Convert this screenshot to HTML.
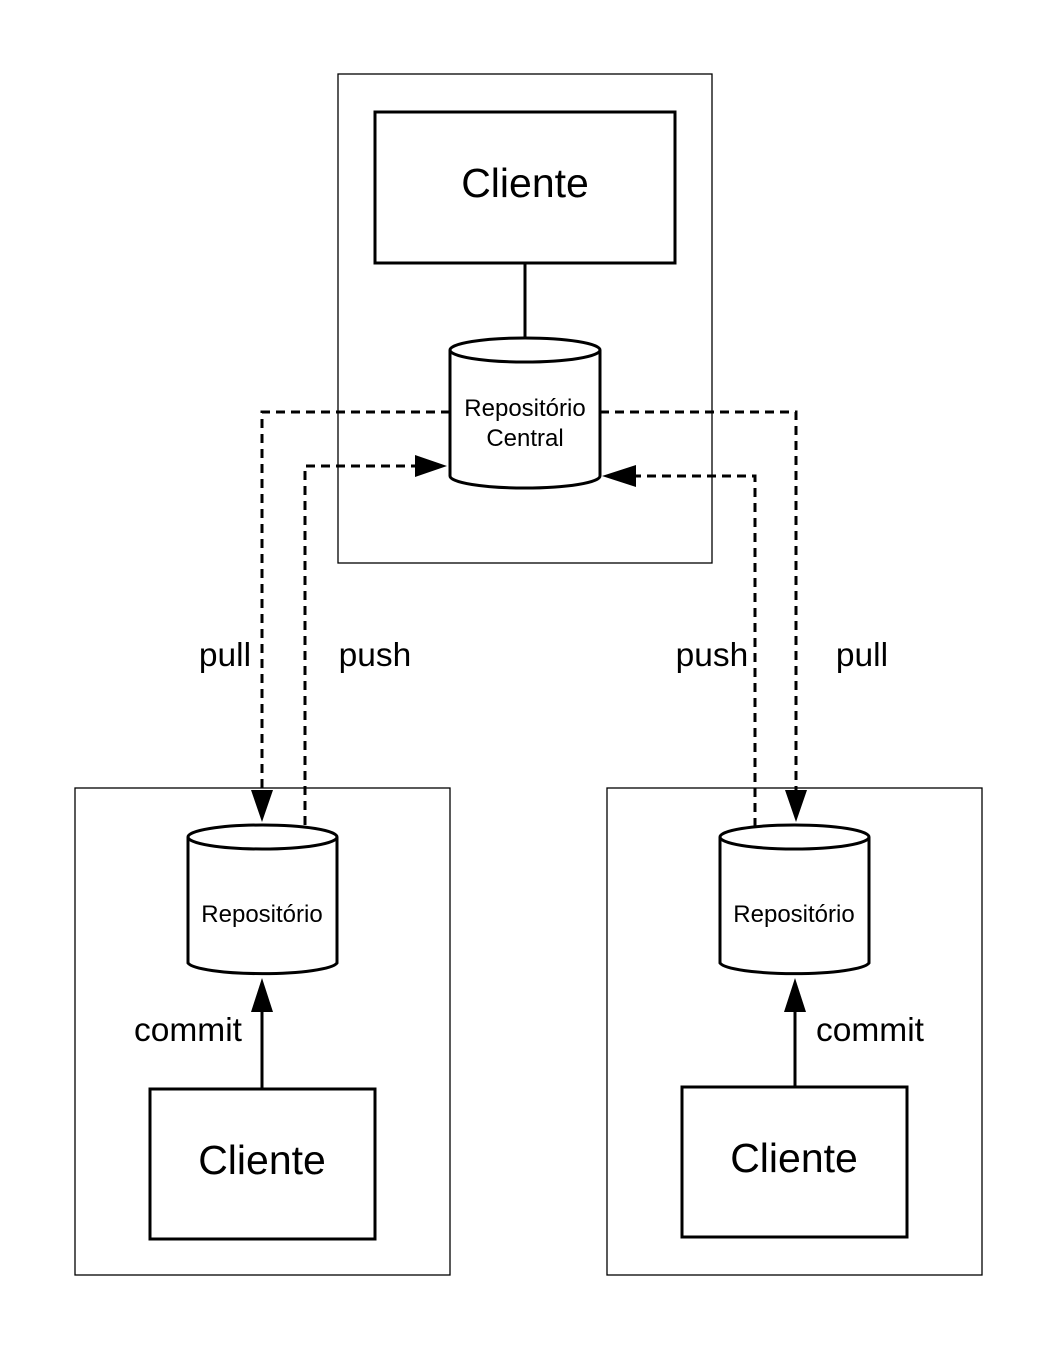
<!DOCTYPE html>
<html><head><meta charset="utf-8"><style>body{margin:0;background:#fff}</style></head><body>
<svg width="1058" height="1350" xmlns="http://www.w3.org/2000/svg" font-family="Liberation Sans, Arial, sans-serif">
<rect width="1058" height="1350" fill="#fff"/>
<g fill="none" stroke="#000">
<rect x="338" y="74" width="374" height="489" stroke-width="1.3"/>
<rect x="75" y="788" width="375" height="487" stroke-width="1.3"/>
<rect x="607" y="788" width="375" height="487" stroke-width="1.3"/>
<rect x="375" y="112" width="300" height="151" stroke-width="3"/>
<rect x="150" y="1089" width="225" height="150" stroke-width="3"/>
<rect x="682" y="1087" width="225" height="150" stroke-width="3"/>
<line x1="525" y1="263" x2="525" y2="338" stroke-width="3"/>
<line x1="262" y1="1088" x2="262" y2="1010" stroke-width="3"/>
<line x1="795" y1="1087" x2="795" y2="1010" stroke-width="3"/>
<g stroke-width="3" stroke-dasharray="9,6">
<polyline points="450,412 262,412 262,790"/>
<polyline points="305,825 305,466 415,466"/>
<polyline points="755,827 755,476 636,476"/>
<polyline points="600,412 796,412 796,790"/>
</g>
</g>
<g fill="#000">
<polygon points="262,822 251,790 273,790"/>
<polygon points="796,822 785,790 807,790"/>
<polygon points="447,466 415,455 415,477"/>
<polygon points="602,476 636,465 636,487"/>
<polygon points="262,978 251,1012 273,1012"/>
<polygon points="795,978 784,1012 806,1012"/>
</g>
<g stroke="#000" stroke-width="3" fill="#fff">
<path d="M450,350 L450,476 A75,12 0 0 0 600,476 L600,350"/>
<ellipse cx="525" cy="350" rx="75" ry="12"/>
<path d="M188,837 L188,963 A75,12 0 0 0 337,963 L337,837"/>
<ellipse cx="262.5" cy="837" rx="74.5" ry="12"/>
<path d="M720,837 L720,963 A75,12 0 0 0 869,963 L869,837"/>
<ellipse cx="794.5" cy="837" rx="74.5" ry="12"/>
</g>
<g text-anchor="middle" fill="#000">
<text x="525" y="197" font-size="41">Cliente</text>
<text x="262" y="1174" font-size="41">Cliente</text>
<text x="794" y="1172" font-size="41">Cliente</text>
<text x="525" y="416" font-size="24">Repositório</text>
<text x="525" y="446" font-size="24">Central</text>
<text x="262" y="922" font-size="24">Repositório</text>
<text x="794" y="922" font-size="24">Repositório</text>
<text x="225" y="666" font-size="33.5">pull</text>
<text x="375" y="666" font-size="33.5">push</text>
<text x="712" y="666" font-size="33.5">push</text>
<text x="862" y="666" font-size="33.5">pull</text>
<text x="188" y="1041" font-size="33.5">commit</text>
<text x="870" y="1041" font-size="33.5">commit</text>
</g>
</svg>
</body></html>
